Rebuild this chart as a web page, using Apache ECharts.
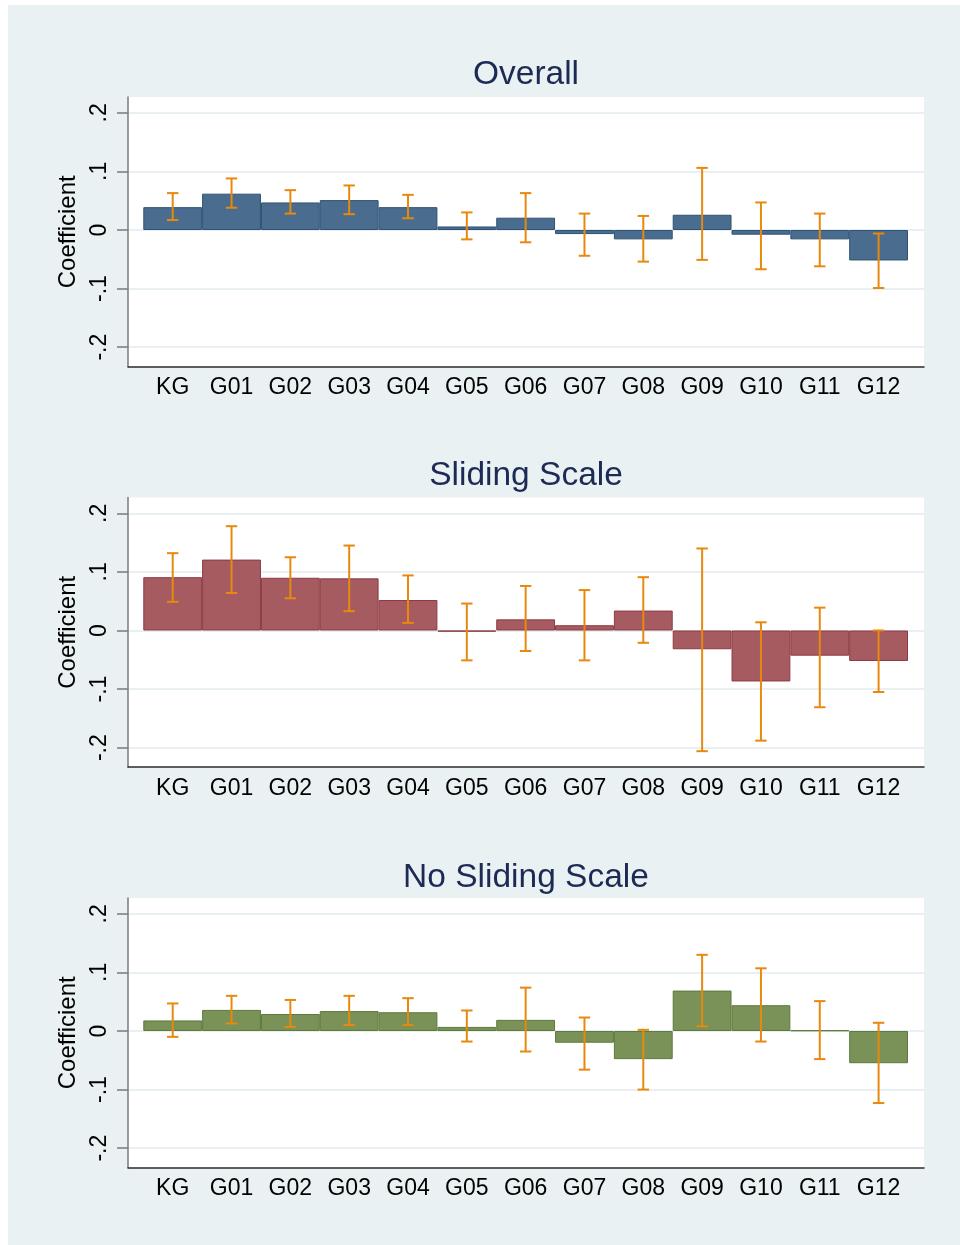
<!DOCTYPE html>
<html>
<head>
<meta charset="utf-8">
<title>Coefficients by grade</title>
<script src="https://cdn.jsdelivr.net/npm/echarts@6.0.0/dist/echarts.min.js"></script>
<style>
  html, body { margin: 0; padding: 0; background: #fff; }
  #bg { position: absolute; left: 8px; top: 5px; width: 952px; height: 1240px; background: #e9f1f3; }
  #chart { position: absolute; left: 0; top: 0; width: 960px; height: 1245px; }
</style>
</head>
<body>
<div id="bg"></div>
<div id="chart"></div>
<script>
var categories = ['KG', 'G01', 'G02', 'G03', 'G04', 'G05', 'G06', 'G07', 'G08', 'G09', 'G10', 'G11', 'G12'];
var yTicks = [-0.2, -0.1, 0, 0.1, 0.2];

// Overall
var overallCoef = [0.039, 0.062, 0.047, 0.051, 0.039, 0.006, 0.021, -0.007, -0.016, 0.026, -0.008, -0.016, -0.052];
var overallLo   = [0.017, 0.038, 0.028, 0.027, 0.020, -0.016, -0.021, -0.044, -0.054, -0.051, -0.067, -0.062, -0.099];
var overallHi   = [0.063, 0.088, 0.068, 0.076, 0.060, 0.030, 0.063, 0.028, 0.024, 0.106, 0.047, 0.028, -0.006];

// Sliding Scale
var slidingCoef = [0.091, 0.121, 0.090, 0.089, 0.052, -0.002, 0.019, 0.009, 0.034, -0.032, -0.087, -0.043, -0.052];
var slidingLo   = [0.049, 0.064, 0.055, 0.033, 0.013, -0.051, -0.035, -0.051, -0.021, -0.206, -0.188, -0.131, -0.105];
var slidingHi   = [0.132, 0.178, 0.125, 0.145, 0.094, 0.046, 0.076, 0.069, 0.091, 0.140, 0.014, 0.039, 0.000];

// No Sliding Scale
var noSlidingCoef = [0.018, 0.036, 0.029, 0.034, 0.032, 0.007, 0.019, -0.020, -0.048, 0.069, 0.044, 0.001, -0.055];
var noSlidingLo   = [-0.010, 0.013, 0.007, 0.010, 0.010, -0.018, -0.035, -0.066, -0.100, 0.008, -0.018, -0.048, -0.123];
var noSlidingHi   = [0.047, 0.060, 0.053, 0.060, 0.056, 0.035, 0.074, 0.023, 0.002, 0.130, 0.107, 0.051, 0.014];

var panels = [
  { title: 'Overall', coef: overallCoef, lo: overallLo, hi: overallHi, fill: '#4a6c8e', edge: '#2e5273', top: 97, titleTop: 58 },
  { title: 'Sliding Scale', coef: slidingCoef, lo: slidingLo, hi: slidingHi, fill: '#a65b61', edge: '#8d3a44', top: 497.5, titleTop: 459 },
  { title: 'No Sliding Scale', coef: noSlidingCoef, lo: noSlidingLo, hi: noSlidingHi, fill: '#7a9157', edge: '#5c7a3c', top: 898, titleTop: 861 }
];

var FONT = '"Liberation Sans", Arial, sans-serif';
var yMin = -0.233, yMax = 0.227;
var plotH = 269.5;

function stataFmt(v) {
  if (v === 0) return '0';
  return String(v).replace('0.', '.');
}

var option = {
  backgroundColor: 'transparent',
  animation: false,
  textStyle: { fontFamily: FONT },
  title: [],
  grid: [],
  xAxis: [],
  yAxis: [],
  series: []
};

panels.forEach(function (p, i) {
  option.title.push({
    text: p.title,
    left: 526,
    top: p.titleTop,
    padding: 0,
    textAlign: 'center',
    textStyle: { fontFamily: FONT, fontSize: 33.5, fontWeight: 'normal', color: '#1c2a55' }
  });

  // frame grid: white plot region, y axis, gridlines
  option.grid.push({
    left: 128, width: 796, top: p.top, height: plotH,
    show: true, backgroundColor: '#fff', borderWidth: 0
  });
  // bar grid: inner band where the bars sit
  option.grid.push({
    left: 143.3, width: 764.7, top: p.top, height: plotH
  });

  var g0 = i * 2, g1 = i * 2 + 1;

  option.xAxis.push({
    gridIndex: g0, type: 'value', min: 0, max: 1,
    axisLine: { show: true, onZero: false, lineStyle: { color: '#2b2b2b', width: 1.5 } },
    axisTick: { show: false }, axisLabel: { show: false }, splitLine: { show: false }
  });
  option.xAxis.push({
    gridIndex: g1, type: 'category', data: categories,
    axisLine: { show: false }, axisTick: { show: false },
    axisLabel: { fontFamily: FONT, fontSize: 23, color: '#000', margin: 10, interval: 0 }
  });

  option.yAxis.push({
    gridIndex: g0, type: 'value', min: yMin, max: yMax,
    name: 'Coefficient', nameLocation: 'middle', nameGap: 46,
    nameTextStyle: { fontFamily: FONT, fontSize: 24, color: '#000' },
    axisLine: { show: true, onZero: false, lineStyle: { color: '#7a7a7a', width: 1.5 } },
    axisTick: { show: true, length: 11, customValues: yTicks, lineStyle: { color: '#7a7a7a', width: 1.5 } },
    axisLabel: { rotate: 90, margin: 17, fontFamily: FONT, fontSize: 23, color: '#000',
      customValues: yTicks, formatter: stataFmt },
    splitLine: { show: true, lineStyle: { color: '#e8f0f3', width: 2 } }
  });
  option.yAxis.push({
    gridIndex: g1, type: 'value', min: yMin, max: yMax, show: false
  });

  option.series.push({
    name: p.title,
    type: 'bar',
    xAxisIndex: g1, yAxisIndex: g1,
    barWidth: '100%',
    data: p.coef,
    itemStyle: { color: p.fill, borderColor: p.edge, borderWidth: 1 },
    z: 2
  });

  var ci = p.coef.map(function (c, k) { return [k, p.lo[k], p.hi[k]]; });
  option.series.push({
    name: p.title + ' CI',
    type: 'custom',
    xAxisIndex: g1, yAxisIndex: g1,
    data: ci,
    z: 3,
    renderItem: function (params, api) {
      var x = api.value(0);
      var lo = api.coord([x, api.value(1)]);
      var hi = api.coord([x, api.value(2)]);
      var cap = 5.7;
      var st = { stroke: '#e8890e', lineWidth: 2 };
      return {
        type: 'group',
        children: [
          { type: 'line', shape: { x1: hi[0], y1: hi[1], x2: lo[0], y2: lo[1] }, style: st },
          { type: 'line', shape: { x1: hi[0] - cap, y1: hi[1], x2: hi[0] + cap, y2: hi[1] }, style: st },
          { type: 'line', shape: { x1: lo[0] - cap, y1: lo[1], x2: lo[0] + cap, y2: lo[1] }, style: st }
        ]
      };
    }
  });
});

var chart = echarts.init(document.getElementById('chart'), null, { renderer: 'canvas' });
chart.setOption(option);
</script>
</body>
</html>
